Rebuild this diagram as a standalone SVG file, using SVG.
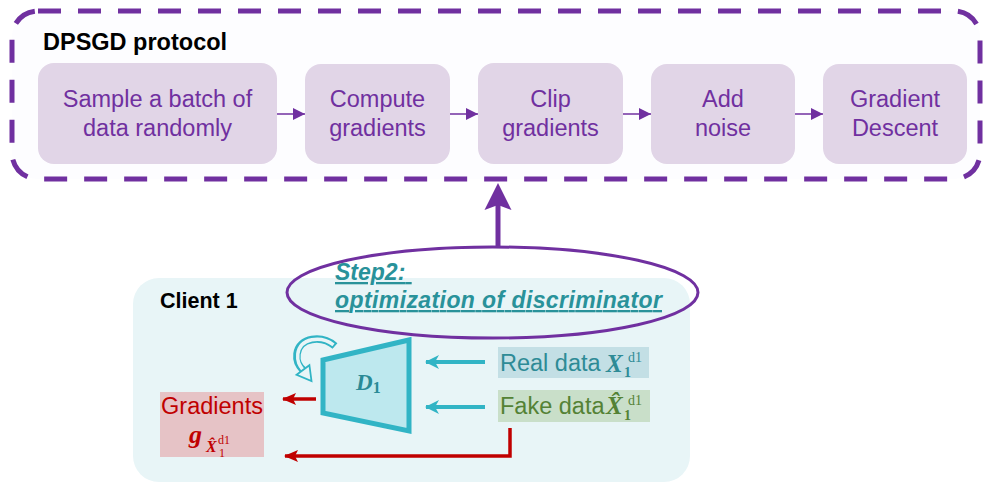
<svg xmlns="http://www.w3.org/2000/svg" width="987" height="484" viewBox="0 0 987 484">
  <defs>
    <style>
      .sans { font-family: "Liberation Sans", Arial, sans-serif; }
      .math { font-family: "Liberation Serif", "Times New Roman", serif; }
      .step { fill: #7030A0; font-size: 23.5px; text-anchor: middle; }
      .stepbox { fill: #E1D5E7; }
      .title { font-weight: bold; font-size: 23.5px; fill: #000; }
      .flow { stroke: #7030A0; stroke-width: 1.5; fill: none; }
      .cyan { stroke: #31B4C5; stroke-width: 4; fill: none; }
      .red { stroke: #C00000; stroke-width: 3.5; fill: none; }
    </style>
    <marker id="flowHead" viewBox="0 0 12 12" refX="12" refY="6" markerWidth="12" markerHeight="12" markerUnits="userSpaceOnUse" orient="auto">
      <path d="M0,0 L12,6 L0,12 z" fill="#7030A0"/>
    </marker>
    <marker id="cyanHead" viewBox="0 0 14 14" refX="13" refY="7" markerWidth="14" markerHeight="14" markerUnits="userSpaceOnUse" orient="auto">
      <path d="M0,0 L14,7 L0,14 L4,7 z" fill="#31B4C5"/>
    </marker>
    <marker id="redHead" viewBox="0 0 14 12" refX="13" refY="6" markerWidth="14" markerHeight="12" markerUnits="userSpaceOnUse" orient="auto">
      <path d="M0,0 L14,6 L0,12 L3,6 z" fill="#C00000"/>
    </marker>
  </defs>

  <rect width="987" height="484" fill="#FFFFFF"/>

  <!-- DPSGD protocol frame -->
  <g id="dpsgd-protocol">
    <rect x="12" y="11" width="968" height="168" rx="26" fill="#FDFDFF" stroke="#7030A0" stroke-width="5" stroke-dasharray="23 17"/>
    <text class="sans title" x="43" y="50">DPSGD protocol</text>
  </g>

  <g id="sample-batch">
    <rect class="stepbox" x="38" y="63" width="239" height="101" rx="16"/>
    <text class="sans step" x="157.5" y="107">Sample a batch of</text>
    <text class="sans step" x="157.5" y="136">data randomly</text>
  </g>
  <g id="compute-gradients">
    <rect class="stepbox" x="305" y="64" width="145" height="100" rx="16"/>
    <text class="sans step" x="377.5" y="107">Compute</text>
    <text class="sans step" x="377.5" y="136">gradients</text>
  </g>
  <g id="clip-gradients">
    <rect class="stepbox" x="478" y="63" width="145" height="101" rx="16"/>
    <text class="sans step" x="550.5" y="107">Clip</text>
    <text class="sans step" x="550.5" y="136">gradients</text>
  </g>
  <g id="add-noise">
    <rect class="stepbox" x="651" y="64" width="144" height="100" rx="16"/>
    <text class="sans step" x="723" y="107">Add</text>
    <text class="sans step" x="723" y="136">noise</text>
  </g>
  <g id="gradient-descent">
    <rect class="stepbox" x="823" y="64" width="144" height="100" rx="16"/>
    <text class="sans step" x="895" y="107">Gradient</text>
    <text class="sans step" x="895" y="136">Descent</text>
  </g>

  <!-- Client 1 panel -->
  <g id="client-1">
    <rect x="133" y="278" width="557" height="204" rx="26" fill="#E8F5F7"/>
    <text class="sans" x="160" y="308" font-weight="bold" font-size="21.5" fill="#000">Client 1</text>
  </g>

  <!-- Step 2 label -->
  <g id="step2">
    <ellipse cx="492.5" cy="292.5" rx="205.5" ry="45.5" fill="none" stroke="#7030A0" stroke-width="3"/>
    <text class="sans" font-weight="bold" font-style="italic" font-size="23" fill="#29929A" text-decoration="underline">
      <tspan x="335" y="280">Step2:</tspan>
      <tspan x="335" y="308" textLength="327" lengthAdjust="spacing">optimization of discriminator</tspan>
    </text>
  </g>

  <!-- Discriminator D1 -->
  <g id="discriminator">
    <polygon points="323,360 409,340 409,431 323,413" fill="#BDE8EE" stroke="#31B4C5" stroke-width="5" stroke-linejoin="miter"/>
    <text class="math" x="356" y="390" font-size="23" font-weight="bold" font-style="italic" fill="#2A8A96">D<tspan font-size="16" font-style="normal" dy="3">1</tspan></text>
  </g>

  <!-- update loop arrow -->
  <g id="update-loop">
    <path d="M335,346 C322,335 299,337 297,354 C296,362 299,366 303,370" fill="none" stroke="#31B4C5" stroke-width="7.5"/>
    <path d="M333.5,344.8 C321,335.5 300,337.5 297.8,354 C297,361.5 299.5,365.5 303,370" fill="none" stroke="#E8F5F7" stroke-width="3.5"/>
    <polygon points="296.6,374.8 309.4,365.2 311.5,381" fill="#E8F5F7" stroke="#31B4C5" stroke-width="1.8" stroke-linejoin="miter"/>
  </g>

  <!-- Real data -->
  <g id="real-data">
    <rect x="498" y="347" width="151" height="31" fill="#C3DFE5"/>
    <text class="sans" x="500" y="371" font-size="23.5" fill="#2E8B96">Real data</text>
    <text class="math" x="606" y="372" font-size="25" font-weight="bold" font-style="italic" fill="#2E8B96">X<tspan x="624" dy="5" font-size="14" font-style="normal">1</tspan><tspan x="628" dy="-15" font-size="14" font-weight="normal" font-style="normal">d1</tspan></text>
  </g>

  <!-- Fake data -->
  <g id="fake-data">
    <rect x="498" y="390" width="152" height="32" fill="#C9DFC9"/>
    <text class="sans" x="500" y="414" font-size="23.5" fill="#548235">Fake data</text>
    <text class="math" x="606" y="414" font-size="25" font-weight="bold" font-style="italic" fill="#548235">X&#x302;<tspan x="624" dy="6" font-size="14" font-style="normal">1</tspan><tspan x="628" dy="-15" font-size="14" font-weight="normal" font-style="normal">d1</tspan></text>
  </g>

  <!-- Gradients output -->
  <g id="gradients">
    <rect x="160" y="392" width="104" height="65" fill="#E6C3C6"/>
    <text class="sans" x="212" y="414" font-size="23.5" fill="#C00000" text-anchor="middle">Gradients</text>
    <text class="math" x="189" y="443" font-size="26" font-weight="bold" font-style="italic" fill="#C00000">g<tspan x="206" dy="9" font-size="16">X&#x302;</tspan><tspan x="219" dy="5" font-size="12" font-weight="normal" font-style="normal">1</tspan><tspan x="218" dy="-13" font-size="12" font-weight="normal" font-style="normal">d1</tspan></text>
  </g>

  <!-- connectors -->
  <g id="connectors">
    <line class="flow" x1="277" y1="114" x2="305" y2="114" marker-end="url(#flowHead)"/>
    <line class="flow" x1="450" y1="114" x2="478" y2="114" marker-end="url(#flowHead)"/>
    <line class="flow" x1="623" y1="114" x2="651" y2="114" marker-end="url(#flowHead)"/>
    <line class="flow" x1="795" y1="114" x2="823" y2="114" marker-end="url(#flowHead)"/>

    <line x1="498" y1="247" x2="498" y2="205" stroke="#7030A0" stroke-width="5"/>
    <polygon points="498,183 511.5,210 498,205 484.5,210" fill="#7030A0"/>

    <line class="cyan" x1="485" y1="362" x2="426" y2="362" marker-end="url(#cyanHead)"/>
    <line class="cyan" x1="485" y1="407" x2="426" y2="407" marker-end="url(#cyanHead)"/>

    <line class="red" x1="316" y1="399" x2="283" y2="399" marker-end="url(#redHead)"/>
    <polyline class="red" points="510,428 510,456 285,456" marker-end="url(#redHead)"/>
  </g>
</svg>
